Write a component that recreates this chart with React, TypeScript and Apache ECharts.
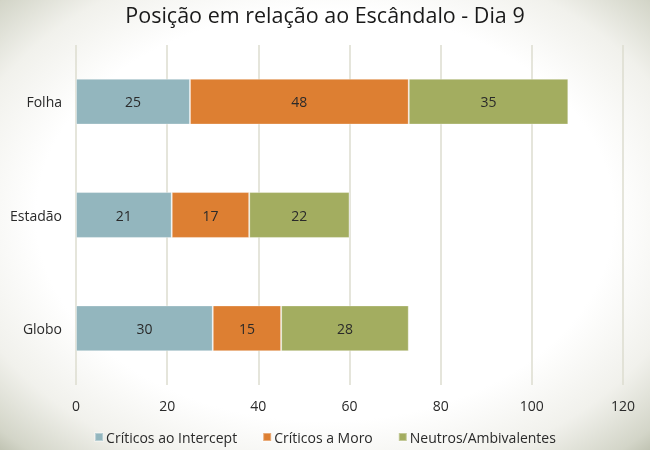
import React, { useEffect, useRef } from "react";
import * as echarts from "echarts";

const categories = ["Folha", "Estadão", "Globo"];
const seriesNames = ["Críticos ao Intercept", "Críticos a Moro", "Neutros/Ambivalentes"];
const criticosIntercept = [25, 21, 30];
const criticosMoro = [48, 17, 15];
const neutros = [35, 22, 28];
const xTicks = { min: 0, max: 120, interval: 20 };
const colors = ["#93b6be", "#dd7f32", "#a3ad60"];

const FONT = "'Open Sans', 'Noto Sans', sans-serif";

export default function App() {
  const ref = useRef<HTMLDivElement>(null);
  useEffect(() => {
    if (!ref.current) return;
    const chart = echarts.init(ref.current, undefined, { renderer: "svg" });
    const values = [criticosIntercept, criticosMoro, neutros];
    chart.setOption({
      animation: false,
      backgroundColor: "transparent",
      color: colors,
      title: {
        text: "Posição em relação ao Escândalo - Dia 9",
        left: "center",
        top: 2,
        padding: 0,
        textStyle: { fontFamily: FONT, fontSize: 21.5, lineHeight: 24, fontWeight: "normal", color: "#1a1a1a" },
      },
      legend: {
        top: 425,
        left: "center",
        itemWidth: 8,
        itemHeight: 8,
        itemGap: 25,
        icon: "rect",
        textStyle: { fontFamily: FONT, fontSize: 14, color: "#2a2a2a", padding: [0, 0, 0, -2] },
        data: seriesNames,
      },
      grid: { left: 76, right: 27, top: 45, bottom: 65, containLabel: false },
      xAxis: {
        type: "value",
        min: xTicks.min,
        max: xTicks.max,
        interval: xTicks.interval,
        axisLine: { show: false },
        axisTick: { show: false },
        axisLabel: { fontFamily: FONT, fontSize: 14, color: "#2a2a2a", margin: 13 },
        splitLine: { show: true, lineStyle: { color: "#dcdccf", width: 1.5 } },
      },
      yAxis: {
        type: "category",
        data: categories,
        inverse: true,
        axisLine: { show: false },
        axisTick: { show: false },
        axisLabel: { fontFamily: FONT, fontSize: 14, color: "#2a2a2a", margin: 14 },
      },
      series: seriesNames.map((name, i) => ({
        name,
        type: "bar",
        stack: "total",
        barWidth: "40.5%",
        data: values[i],
        itemStyle: { color: colors[i], borderColor: "rgba(255,255,255,0.35)", borderWidth: 1 },
        label: {
          show: true,
          position: "inside",
          fontFamily: FONT,
          fontSize: 14,
          color: "#2a2a2a",
        },
      })),
    });
    return () => chart.dispose();
  }, []);
  return (
    <div
      style={{
        position: "fixed",
        left: 0,
        top: 0,
        width: 650,
        height: 450,
        background:
          "radial-gradient(ellipse 74% 76% at 50% 48%, #ffffff 0%, #ffffff 60%, #f1f1ec 78%, #d3d5c8 92%, #b0b4a0 100%)",
      }}
    >
      <div ref={ref} style={{ width: 650, height: 450 }} />
    </div>
  );
}
